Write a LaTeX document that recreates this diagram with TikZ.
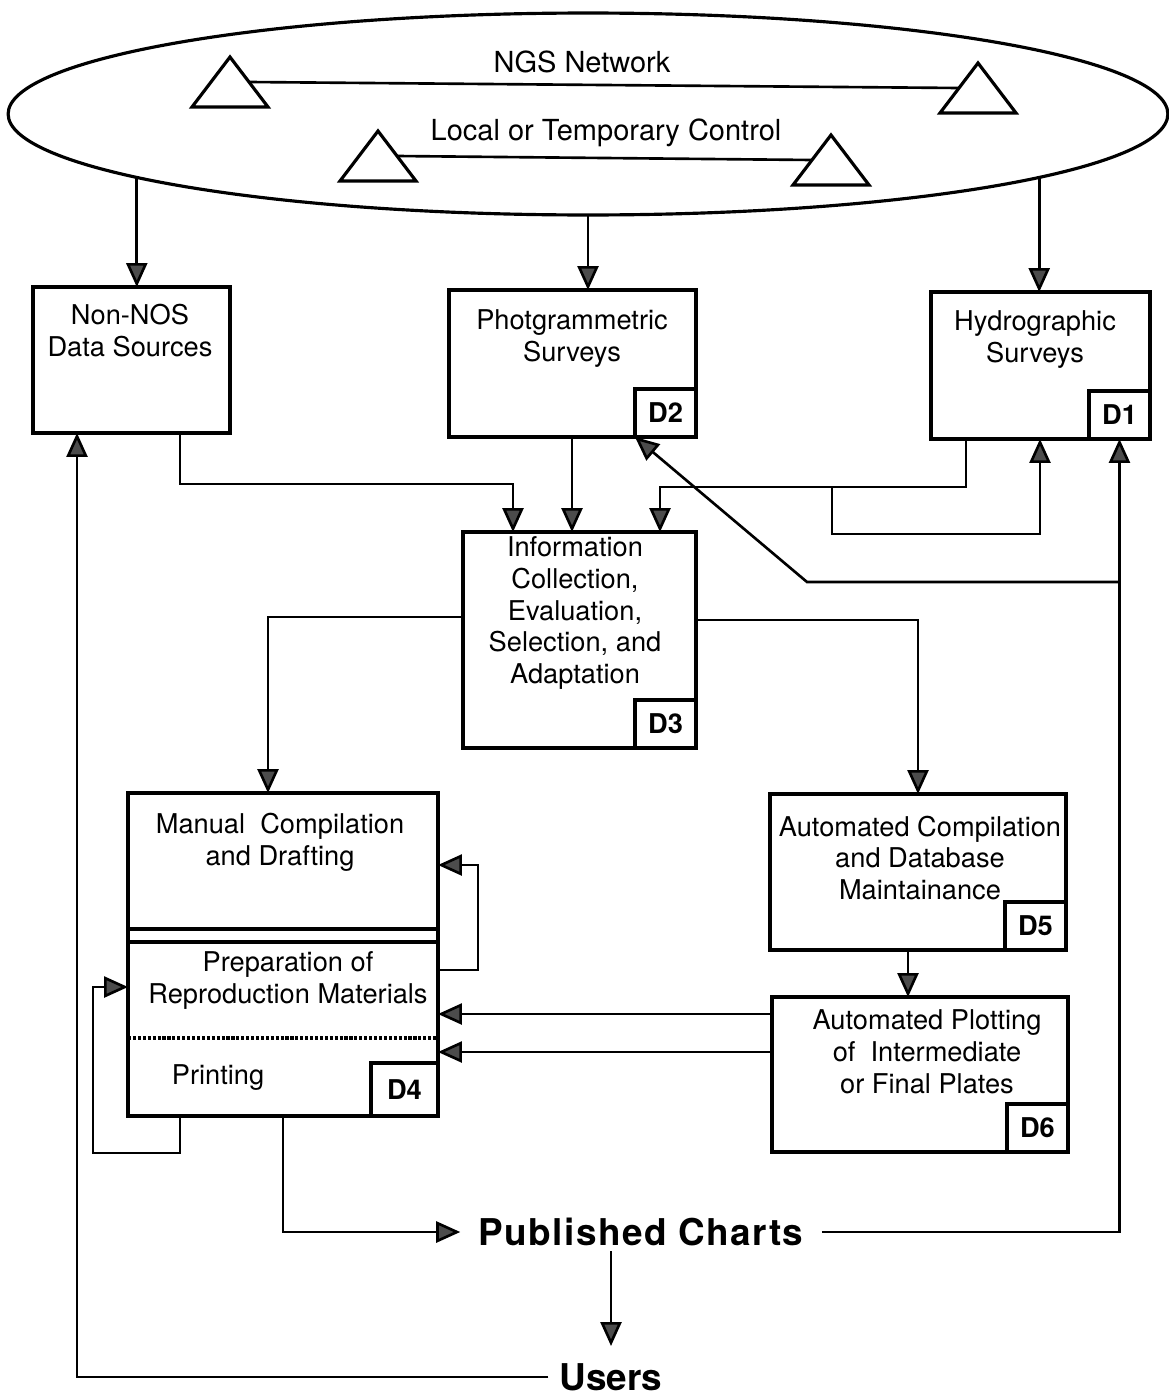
\documentclass[tikz,border=0pt]{standalone}
\usepackage{fontspec}
\setmainfont{TeX Gyre Heros}
\usetikzlibrary{arrows.meta,shapes.geometric,calc}

\begin{document}
\begin{tikzpicture}[x=0.02cm,y=-0.02cm,
    box/.style={draw,line width=1.8pt,inner sep=0pt,outer sep=0pt},
    tag/.style={draw,line width=1.8pt,inner sep=0pt,outer sep=0pt,minimum width=1.22cm,minimum height=0.96cm,font=\fontsize{15.5}{18}\selectfont\bfseries},
    txt/.style={align=center,inner sep=0pt,font=\fontsize{15.5}{18.2}\selectfont},
    big/.style={font=\fontsize{21}{24}\selectfont\bfseries},
    link/.style={line width=1.5pt},
    arr/.style={link,-{Triangle[length=0.48cm,width=0.42cm,fill=black!70]}}]
  \useasboundingbox (0,0) rectangle (1169,1396);

  % control network
  \node[draw,ellipse,line width=1.8pt,inner sep=0pt,outer sep=0pt,minimum width=23.2cm,minimum height=4.04cm] (ctrl) at (588,114) {};
  \foreach \x/\y/\n in {230/57/ngsl,978/63/ngsr,378/131/locl,831/135/locr}{
    \draw[line width=1.8pt,line join=miter] (\x,\y) -- ++(38,50) -- ++(-76,0) -- cycle;
    \coordinate (\n-w) at (\x-19,\y+25);
    \coordinate (\n-e) at (\x+19,\y+25);
  }
  \draw[link] (ngsl-e) -- (ngsr-w);
  \draw[link] (locl-e) -- (locr-w);
  \node[txt,font=\fontsize{16.5}{19}\selectfont] (ngs) at (582,62) {NGS Network};
  \node[txt,font=\fontsize{16.5}{19}\selectfont] (loc) at (606,133) {Local or Temporary Control};

  % surveys and sources
  \node[box,minimum width=3.94cm,minimum height=2.92cm] (nonnos) at (131.5,360) {};
  \node[txt] (nonnos-t) at (130,331) {Non-NOS\\Data Sources};
  \node[box,minimum width=4.94cm,minimum height=2.94cm] (photo) at (572.5,363.5) {};
  \node[txt] (photo-t) at (572,339) {Photgrammetric\\Surveys};
  \node[tag,anchor=south east] (d2) at (photo.south east) {D2};
  \node[box,minimum width=4.38cm,minimum height=2.94cm] (hydro) at (1040.5,365.5) {};
  \node[txt] (hydro-t) at (1035,340) {Hydrographic\\Surveys};
  \node[tag,anchor=south east] (d1) at (hydro.south east) {D1};

  % information
  \node[box,minimum width=4.66cm,minimum height=4.32cm] (info) at (579.5,640) {};
  \node[txt] (info-t) at (575,613) {Information\\Collection,\\Evaluation,\\Selection, and\\Adaptation};
  \node[tag,anchor=south east] (d3) at (info.south east) {D3};

  % manual branch
  \node[box,minimum width=6.2cm,minimum height=6.46cm] (manual) at (283,954.5) {};
  \draw[line width=1.8pt] (manual.west |- 0,929) -- (manual.east |- 0,929);
  \draw[line width=1.8pt] (manual.west |- 0,942) -- (manual.east |- 0,942);
  \draw[line width=1.8pt,densely dotted] (manual.west |- 0,1038) -- (manual.east |- 0,1038);
  \node[txt] (manual-t) at (280,842) {Manual\ \ Compilation\\and Drafting};
  \node[txt] (prep-t) at (288,980) {Preparation of\\Reproduction Materials};
  \node[txt] (print-t) at (218,1078) {Printing};
  \node[tag,anchor=south east,minimum width=1.34cm,minimum height=1.06cm] (d4) at (manual.south east) {D4};

  % automated branch
  \node[box,minimum width=5.92cm,minimum height=3.12cm] (auto) at (918,872) {};
  \node[txt] (auto-t) at (920,858) {Automated Compilation\\and Database\\Maintainance};
  \node[tag,anchor=south east] (d5) at (auto.south east) {D5};
  \node[box,minimum width=5.92cm,minimum height=3.1cm] (plot) at (920,1074.5) {};
  \node[txt] (plot-t) at (927,1052) {Automated Plotting\\of\ \ Intermediate\\or Final Plates};
  \node[tag,anchor=south east] (d6) at (plot.south east) {D6};

  % outputs
  \node[big,inner xsep=0.36cm,inner ysep=0.1cm] (pub) at (641,1232) {\addfontfeature{LetterSpace=4}Published Charts};
  \node[big,inner xsep=0.22cm,inner ysep=0.34cm] (users) at (611,1377) {Users};

  % connectors
  \draw[arr] (ctrl.188) -- (ctrl.188 |- nonnos.north);
  \draw[arr] (ctrl.south) -- (ctrl.south |- photo.north);
  \draw[arr] (ctrl.352) -- (ctrl.352 |- hydro.north);
  \draw[arr] (180,0 |- nonnos.south) |- (513,484) -- (513,0 |- info.north);
  \draw[arr] (572,0 |- photo.south) -- (572,0 |- info.north);
  \draw[arr] (966,0 |- hydro.south) |- (660,487) -- (660,0 |- info.north);
  \coordinate (loop) at (832,487);
  \draw[arr] (loop) |- (1040,534) -- (1040,0 |- hydro.south);
  \draw[arr] (pub.east) -| (d1.south);
  \coordinate (back) at (d1.south |- 0,582);
  \draw[arr] (back) -- (807,582) -- (d2.south west);
  \draw[arr] (info.west |- 0,617) -| (268,0 |- manual.north);
  \draw[arr] (info.east |- 0,620) -| (auto.north);
  \draw[arr] (908,0 |- auto.south) -- (908,0 |- plot.north);
  \draw[arr] (plot.west |- 0,1014) -- (manual.east |- 0,1014);
  \draw[arr] (plot.west |- 0,1052) -- (manual.east |- 0,1052);
  \draw[arr] (manual.east |- 0,970) -| (478,865) -- (manual.east |- 0,865);
  \draw[arr] (180,0 |- manual.south) |- (93,1153) |- (manual.west |- 0,987);
  \draw[arr] (283,0 |- manual.south) |- (pub.west);
  \draw[arr] (users.north |- pub.south) -- (users.north);
  \draw[arr] (users.west) -| (77,0 |- nonnos.south);
\end{tikzpicture}
\end{document}
